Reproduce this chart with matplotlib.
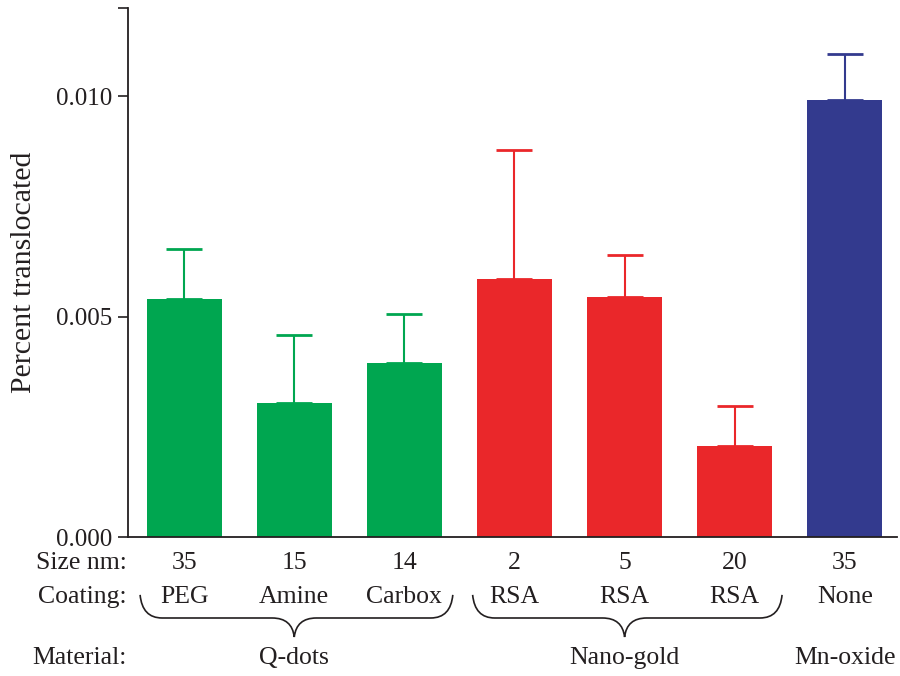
import matplotlib
matplotlib.use("Agg")
import matplotlib.pyplot as plt
import matplotlib.transforms as mtransforms
from matplotlib.path import Path
from matplotlib.patches import PathPatch

# values
sizes = ["35", "15", "14", "2", "5", "20", "35"]
coatings = ["PEG", "Amine", "Carbox", "RSA", "RSA", "RSA", "None"]
values = [0.0054, 0.00304, 0.00395, 0.00585, 0.00544, 0.00206, 0.00992]
err_tops = [0.00653, 0.00458, 0.00506, 0.00878, 0.0064, 0.00297, 0.01095]
materials = ["Q-dots", "Nano-gold", "Mn-oxide"]
material_center = [1.0, 4.0, 6.0]
# brace spans (left, right) in bar units, None for no brace
brace_spans = [(-0.40, 2.44), (2.62, 5.43), None]

green, red, blue = "#00A650", "#EA272A", "#333A8E"
colors = [green] * 3 + [red] * 3 + [blue]
ink = "#231F20"

plt.rcParams["font.family"] = ["Liberation Serif", "DejaVu Serif"]
plt.rcParams["text.color"] = ink

fig = plt.figure(figsize=(9, 6.76), dpi=100)
ax = fig.add_axes([0.1422, 0.2056, 0.854, 0.7826])

x = list(range(len(values)))
upper = [t - v for t, v in zip(err_tops, values)]
ax.bar(x, values, width=0.68, color=colors, zorder=2)
for xi, v, up, c in zip(x, values, upper, colors):
    ax.errorbar(xi, v, yerr=[[0], [up]], fmt="none", ecolor=c,
                elinewidth=1.5, capsize=13, capthick=2, zorder=1)

ax.set_xlim(-0.51, 6.47)
ax.set_ylim(0, 0.012)
ax.set_yticks([0, 0.005, 0.010, 0.012])
ax.set_yticklabels(["0.000", "0.005", "0.010", ""])
ax.set_xticks([])
ax.tick_params(axis="y", length=7, width=1.2, pad=4, labelsize=18,
               colors=ink)
for s in ["top", "right"]:
    ax.spines[s].set_visible(False)
for s in ["left", "bottom"]:
    ax.spines[s].set_linewidth(1.3)
    ax.spines[s].set_color(ink)

ax.set_ylabel("Percent translocated", fontsize=21.5, color=ink)
ax.yaxis.set_label_coords(-0.118, 0.5)

# category rows under the axis
tr = mtransforms.blended_transform_factory(ax.transData, fig.transFigure)
fs = 18.5
row_y = {"size": 0.167, "coat": 0.117, "mat": 0.027}
fig.text(0.141, row_y["size"], "Size nm:", ha="right", va="center", fontsize=fs)
fig.text(0.141, row_y["coat"], "Coating:", ha="right", va="center", fontsize=fs)
fig.text(0.141, row_y["mat"], "Material:", ha="right", va="center", fontsize=fs)
for xi, s, c in zip(x, sizes, coatings):
    ax.text(xi, row_y["size"], s, transform=tr, ha="center", va="center",
            fontsize=fs, clip_on=False)
    ax.text(xi, row_y["coat"], c, transform=tr, ha="center", va="center",
            fontsize=fs, clip_on=False)
for m, xc in zip(materials, material_center):
    ax.text(xc, row_y["mat"], m, transform=tr, ha="center", va="center",
            fontsize=fs, clip_on=False)

# curly braces grouping the materials
yt, ym, yp = 0.120, 0.0858, 0.0577
r = 0.2
for span, xc in zip(brace_spans, material_center):
    if span is None:
        continue
    x0, x1 = span
    verts = [(x0, yt), (x0 + 0.02, ym), (x0 + r, ym),
             (xc - r, ym),
             (xc - 0.02, ym), (xc, yp),
             (xc + 0.02, ym), (xc + r, ym),
             (x1 - r, ym),
             (x1 - 0.02, ym), (x1, yt)]
    codes = [Path.MOVETO, Path.CURVE3, Path.CURVE3,
             Path.LINETO,
             Path.CURVE3, Path.CURVE3,
             Path.CURVE3, Path.CURVE3,
             Path.LINETO,
             Path.CURVE3, Path.CURVE3]
    ax.add_patch(PathPatch(Path(verts, codes), transform=tr, fill=False,
                           edgecolor=ink, lw=1.2, clip_on=False))

fig.savefig("out.png", dpi=100)
